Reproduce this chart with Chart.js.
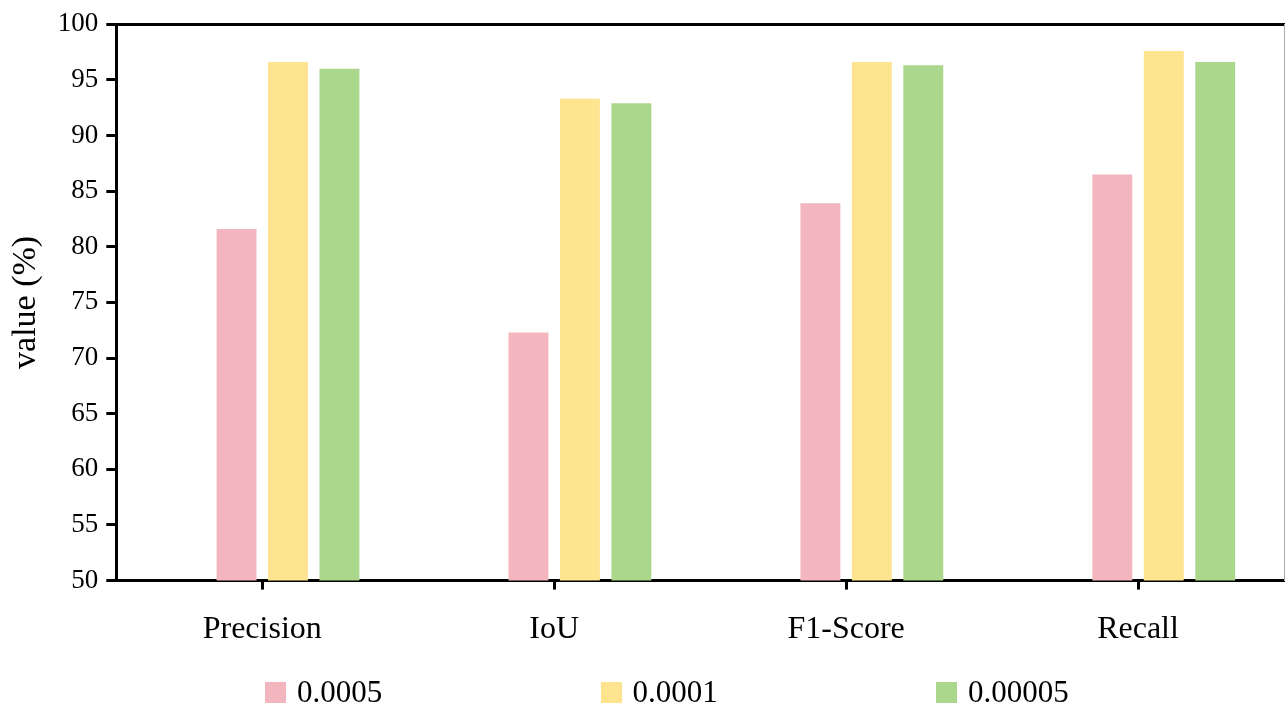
<!DOCTYPE html>
<html>
<head>
<meta charset="utf-8">
<title>value (%)</title>
<script src="https://cdn.jsdelivr.net/npm/chart.js@4.4.1/dist/chart.umd.min.js"></script>
<style>
    body { margin: 0; background: #fff; }
    #wrap { position: relative; width: 1285px; height: 706px; }
    #legend { position: absolute; left: 0; top: 674px; width: 1285px; height: 32px; }
    .item { position: absolute; top: 0; display: flex; align-items: center; font-family: "Liberation Serif", serif; font-size: 31px; color: #000; }
    .box { width: 21px; height: 21px; margin-right: 11px; }
</style>
</head>
<body>
<div id="wrap">
    <canvas id="chart" width="1285" height="706"></canvas>
    <div id="legend"></div>
</div>
<script>
// categorías y series
const categories = ['Precision', 'IoU', 'F1-Score', 'Recall'];
const seriesNames = ['0.0005', '0.0001', '0.00005'];
const lr0005 = [81.6, 72.3, 83.9, 86.5];
const lr0001 = [96.6, 93.3, 96.6, 97.6];
const lr00005 = [96.0, 92.9, 96.3, 96.6];
const yTicks = [50, 55, 60, 65, 70, 75, 80, 85, 90, 95, 100];

const colors = ['#f3b6bf', '#fee48f', '#abd78d'];
const serif = '"Liberation Serif", "Times New Roman", serif';

// slot vacío: las barras quedan desplazadas a la derecha de la marca del eje
const emptySlot = categories.map(() => null);

const datasets = [
    { label: '', data: emptySlot, backgroundColor: 'rgba(0,0,0,0)' },
    { label: seriesNames[0], data: lr0005, backgroundColor: colors[0] },
    { label: seriesNames[1], data: lr0001, backgroundColor: colors[1] },
    { label: seriesNames[2], data: lr00005, backgroundColor: colors[2] }
];

const ctx = document.getElementById('chart').getContext('2d');
const chart = new Chart(ctx, {
    type: 'bar',
    data: { labels: categories, datasets: datasets },
    options: {
        responsive: false,
        animation: false,
        devicePixelRatio: 1,
        categoryPercentage: 0.705,
        barPercentage: 0.776,
        layout: { padding: { top: 10, right: 1, bottom: 36, left: 6 } },
        plugins: {
            legend: { display: false },
            tooltip: { enabled: false }
        },
        scales: {
            x: {
                type: 'category',
                grid: { offset: false, drawOnChartArea: false, drawTicks: true, tickLength: 9, color: '#000', lineWidth: 3 },
                border: { display: true, color: '#000', width: 3 },
                ticks: { color: '#000', font: { family: serif, size: 32 }, padding: 21, maxRotation: 0 }
            },
            xTop: {
                type: 'category',
                position: 'top',
                grid: { display: false },
                border: { display: true, color: '#000', width: 3 },
                ticks: { display: false }
            },
            y: {
                min: 50,
                max: 100,
                afterBuildTicks: (axis) => { axis.ticks = yTicks.map(v => ({ value: v })); },
                grid: { drawOnChartArea: false, drawTicks: true, tickLength: 10, color: '#000', lineWidth: 3 },
                border: { display: true, color: '#000', width: 3 },
                ticks: { color: '#000', font: { family: serif, size: 27 }, padding: 8 },
                title: { display: true, text: 'value (%)', color: '#000', font: { family: serif, size: 34 }, padding: { top: 0, bottom: 3 } }
            },
            yRight: {
                position: 'right',
                min: 50,
                max: 100,
                afterFit: (axis) => { axis.width = 0; },
                grid: { display: false },
                border: { display: true, color: '#aaa', width: 1 },
                ticks: { display: false }
            }
        }
    }
});

// leyenda en HTML, con los mismos nombres y colores
const legend = document.getElementById('legend');
seriesNames.forEach((name, i) => {
    const item = document.createElement('div');
    item.className = 'item';
    item.style.left = (265 + i * 335.5) + 'px';
    const box = document.createElement('span');
    box.className = 'box';
    box.style.background = colors[i];
    const txt = document.createElement('span');
    txt.textContent = name;
    item.appendChild(box);
    item.appendChild(txt);
    legend.appendChild(item);
});
</script>
</body>
</html>
